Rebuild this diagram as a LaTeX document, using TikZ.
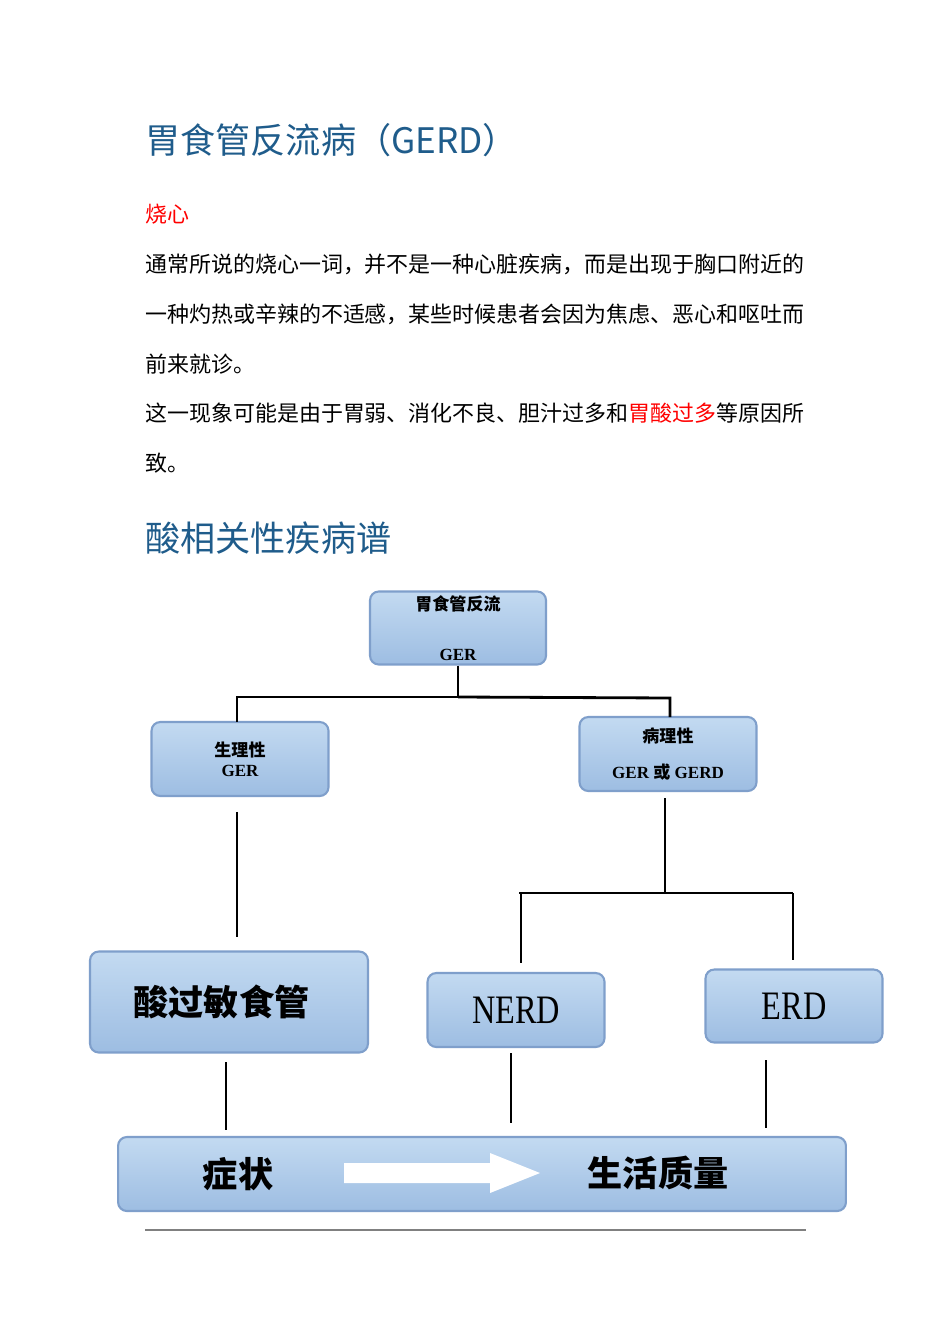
\documentclass[tikz,border=0pt]{standalone}
\usepackage{fontspec}
\setmainfont{Liberation Serif}
\newfontfamily\cjk{Noto Sans CJK SC}
\usetikzlibrary{calc}
\definecolor{titleblue}{HTML}{1F5C8B}
\definecolor{boxtop}{HTML}{C3DAF1}
\definecolor{boxbot}{HTML}{9DBDE2}
\definecolor{boxline}{HTML}{7F9FCB}
\tikzset{
  txt/.style={anchor=west, inner sep=0pt, font=\cjk\fontsize{12.5}{14}\selectfont},
  ttl/.style={anchor=west, inner sep=0pt, text=titleblue, font=\cjk\fontsize{20}{24}\selectfont},
  box/.style={rectangle, draw=boxline, line width=1.2pt, rounded corners=5pt, top color=boxtop, bottom color=boxbot, inner sep=0pt, align=center},
  small/.style={font=\bfseries\fontsize{9.7}{12}\selectfont},
  conn/.style={line width=1.6pt, black}
}
\begin{document}
\begin{tikzpicture}[x=0.02cm, y=-0.02cm]
    \fill[white] (0,0) rectangle (950,1344);
    % Texts
    \node (title) [ttl] at (145,140) {胃食管反流病（GERD）};
    \node (heart) [txt, text=red] at (145,214) {烧心};
    \node (p1) [txt] at (145,264) {通常所说的烧心一词，并不是一种心脏疾病，而是出现于胸口附近的};
    \node (p2) [txt] at (145,314) {一种灼热或辛辣的不适感，某些时候患者会因为焦虑、恶心和呕吐而};
    \node (p3) [txt] at (145,364) {前来就诊。};
    \node (p4) [txt] at (145,413) {这一现象可能是由于胃弱、消化不良、胆汁过多和\textcolor{red}{胃酸过多}等原因所};
    \node (p5) [txt] at (145,463) {致。};
    \node (spec) [ttl] at (145,538) {酸相关性疾病谱};
    % Define blocks
    \node (ger) [box, small, minimum width=3.52cm, minimum height=1.46cm] at (458,628) {{\cjk\bfseries 胃食管反流}\\[0.58cm]（GER）};
    \node (phys) [box, small, minimum width=3.54cm, minimum height=1.48cm] at (240,759) {{\cjk\bfseries 生理性}\\[-0.02cm]GER};
    \node (path) [box, small, minimum width=3.54cm, minimum height=1.48cm] at (668,754) {{\cjk\bfseries 病理性}\\[0.3cm]GER {\cjk\bfseries 或} GERD};
    \node (acid) [box, minimum width=5.56cm, minimum height=2.02cm, font=\cjk\bfseries\fontsize{20}{24}\selectfont] at (229,1002) {\hspace*{-0.3cm}酸过敏食管};
    \node (nerd) [box, minimum width=3.54cm, minimum height=1.48cm, font=\fontsize{23}{26}\selectfont] at (516,1010) {\scalebox{0.8}[1]{NERD}};
    \node (erd) [box, minimum width=3.54cm, minimum height=1.46cm, font=\fontsize{23}{26}\selectfont] at (794,1006) {\scalebox{0.8}[1]{ERD}};
    \node (bar) [box, minimum width=14.56cm, minimum height=1.48cm] at (482,1174) {};
    \node (sym) [inner sep=0pt, font=\cjk\bfseries\fontsize{20}{24}\selectfont] at (238,1174) {症状};
    \node (life) [inner sep=0pt, font=\cjk\bfseries\fontsize{20}{24}\selectfont] at (658,1173) {生活质量};
    \fill[white] (344,1163) -- (490,1163) -- (490,1153) -- (540,1173) -- (490,1193) -- (490,1183) -- (344,1183) -- cycle;
    % Draw connectors
    \coordinate (split) at (458,697);
    \coordinate (split2) at (665,893);
    \draw[conn] (ger.south) -- (split);
    \draw[conn] (split) -- (237,697) -- (237,722);
    \draw[conn] (split) -- (670,698) -- (670,717);
    \draw[conn, shorten <=9pt] (237,796) -- (237,937);
    \draw[conn, shorten <=4pt] (665,791) -- (split2);
    \draw[conn] (519,893) -- (793,893);
    \draw[conn] (521,893) -- (521,963);
    \draw[conn] (793,893) -- (793,960);
    \draw[conn] (226,1062) -- (226,1130);
    \draw[conn] (511,1053) -- (511,1123);
    \draw[conn] (766,1060) -- (766,1128);
    % Rule
    \draw[gray, line width=0.6pt] (145,1230) -- (806,1230);
\end{tikzpicture}
\end{document}
